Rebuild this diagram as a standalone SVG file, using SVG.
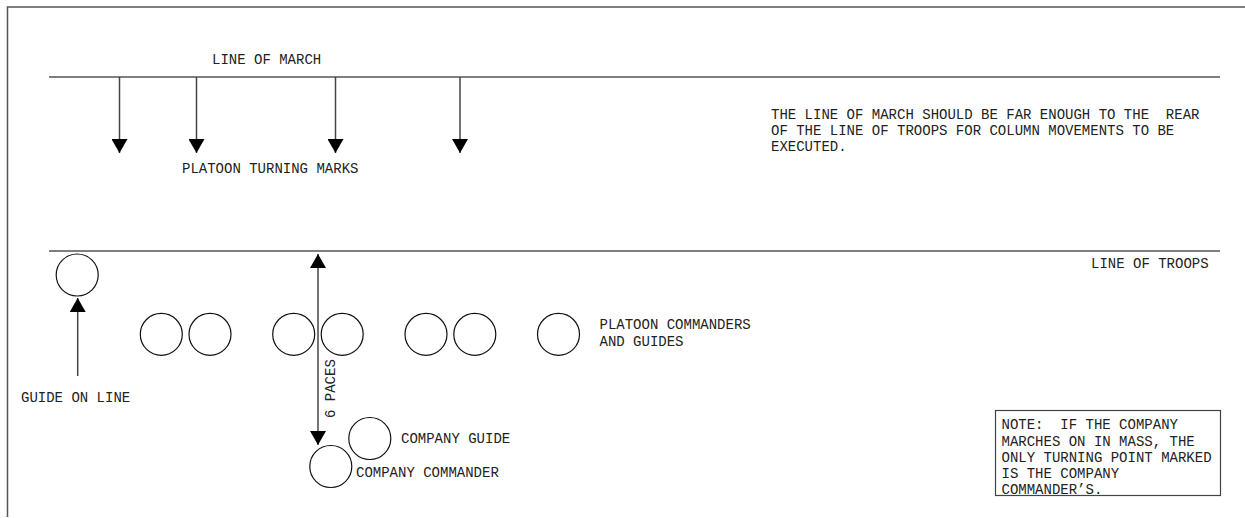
<svg xmlns="http://www.w3.org/2000/svg" width="1245" height="518" viewBox="0 0 1245 518">
<style>
text{font-family:"Liberation Mono","Courier New",monospace;font-size:14px;fill:#222;white-space:pre}
.ln{stroke:#555;stroke-width:1.5;fill:none}
.ar{stroke:#444;stroke-width:1.5;fill:none}
.c{stroke:#111;stroke-width:1.2;fill:#fff}
</style>
<defs>
<marker id="ah" markerUnits="userSpaceOnUse" markerWidth="14" markerHeight="16" refX="14" refY="8" orient="auto-start-reverse" viewBox="0 0 14 16">
<path d="M0,0 L14,8 L0,16 z" fill="#000"/>
</marker>
</defs>
<g id="frame">
<path class="ln" d="M7.5,517 V7 H1245"/>
</g>
<g id="line-of-march">
<line class="ln" x1="49" y1="77" x2="1220" y2="77"/>
<text x="212" y="64">LINE OF MARCH</text>
</g>
<g id="line-of-troops">
<line class="ln" x1="49" y1="251" x2="1220" y2="251"/>
<text x="1091" y="268">LINE OF TROOPS</text>
</g>
<g id="connectors">
<line class="ar" x1="119.5" y1="77" x2="119.5" y2="153" marker-end="url(#ah)"/>
<line class="ar" x1="196.5" y1="77" x2="196.5" y2="153" marker-end="url(#ah)"/>
<line class="ar" x1="335.5" y1="77" x2="335.5" y2="153" marker-end="url(#ah)"/>
<line class="ar" x1="460" y1="77" x2="460" y2="153" marker-end="url(#ah)"/>
<line class="ar" x1="77.7" y1="376" x2="77.7" y2="298" marker-end="url(#ah)"/>
<line class="ar" x1="318" y1="445" x2="318" y2="254" marker-start="url(#ah)" marker-end="url(#ah)"/>
</g>
<g id="turning-marks-label">
<text x="182" y="173">PLATOON TURNING MARKS</text>
</g>
<g id="comment">
<text x="771" y="119" xml:space="preserve">THE LINE OF MARCH SHOULD BE FAR ENOUGH TO THE  REAR</text>
<text x="771" y="135">OF THE LINE OF TROOPS FOR COLUMN MOVEMENTS TO BE</text>
<text x="771" y="151">EXECUTED.</text>
</g>
<g id="guide-on-line">
<circle class="c" cx="77.2" cy="275" r="21"/>
<text x="21" y="402">GUIDE ON LINE</text>
</g>
<g id="platoon-commanders">
<circle class="c" cx="161.3" cy="334.3" r="21"/>
<circle class="c" cx="210" cy="334.3" r="21"/>
<circle class="c" cx="293.7" cy="334.3" r="21"/>
<circle class="c" cx="342.2" cy="334.3" r="21"/>
<circle class="c" cx="426" cy="334.3" r="21"/>
<circle class="c" cx="474.8" cy="334.3" r="21"/>
<circle class="c" cx="558.5" cy="334.3" r="21"/>
<text x="599.5" y="329">PLATOON COMMANDERS</text>
<text x="599.5" y="346">AND GUIDES</text>
</g>
<g id="six-paces">
<text transform="translate(335,418) rotate(-90)">6 PACES</text>
</g>
<g id="company-guide">
<circle class="c" cx="369.8" cy="438.5" r="21"/>
<text x="401" y="443">COMPANY GUIDE</text>
</g>
<g id="company-commander">
<circle class="c" cx="330.8" cy="466.5" r="21"/>
<text x="356" y="477">COMPANY COMMANDER</text>
</g>
<g id="note">
<rect x="995.5" y="410.5" width="225" height="85" fill="none" stroke="#444" stroke-width="1.2"/>
<text x="1001.5" y="429" xml:space="preserve">NOTE:  IF THE COMPANY</text>
<text x="1001.5" y="445.5">MARCHES ON IN MASS, THE</text>
<text x="1001.5" y="462">ONLY TURNING POINT MARKED</text>
<text x="1001.5" y="478">IS THE COMPANY</text>
<text x="1001.5" y="494">COMMANDER’S.</text>
</g>
</svg>
